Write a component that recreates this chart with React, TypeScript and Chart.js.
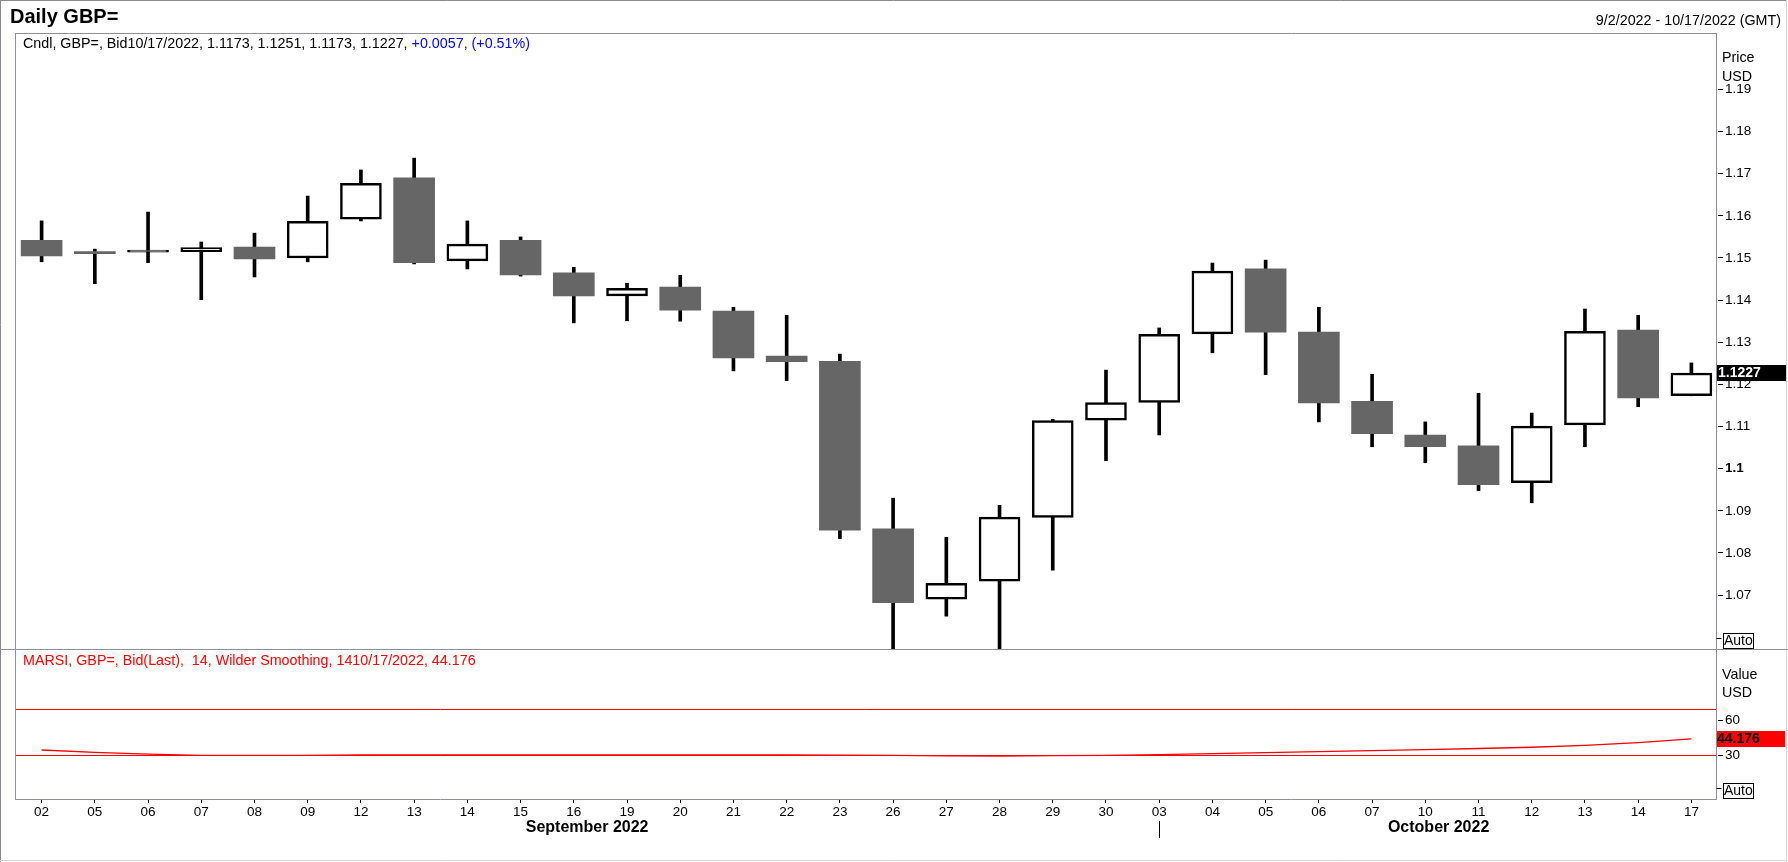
import React, { useEffect, useRef } from 'react';
import { Chart, registerables } from 'chart.js';

Chart.register(...registerables);

// ---------- data ----------
const DAYS = ['02', '05', '06', '07', '08', '09', '12', '13', '14', '15', '16', '19', '20', '21', '22', '23', '26', '27', '28', '29', '30',
  '03', '04', '05', '06', '07', '10', '11', '12', '13', '14', '17'];
const MONTH_NAMES = ['September 2022', 'October 2022'];
const MONTH_FIRST_INDEX = [0, 21];

const OPEN = [1.1542, 1.1515, 1.1514, 1.1515, 1.1526, 1.1500, 1.1592, 1.1690, 1.1493, 1.1542, 1.1465, 1.1410, 1.1431, 1.1374, 1.1267, 1.1255,
  1.0857, 1.0690, 1.0733, 1.0884, 1.1115, 1.1157, 1.1320, 1.1474, 1.1324, 1.1160, 1.1080, 1.1054, 1.0967, 1.1104, 1.1329, 1.1173];
const HIGH = [1.1588, 1.1521, 1.1609, 1.1538, 1.1559, 1.1647, 1.1709, 1.1737, 1.1588, 1.1550, 1.1478, 1.1440, 1.1459, 1.1383, 1.1364, 1.1272,
  1.0930, 1.0837, 1.0913, 1.1117, 1.1234, 1.1334, 1.1488, 1.1495, 1.1383, 1.1224, 1.1111, 1.1179, 1.1132, 1.1379, 1.1364, 1.1251];
const LOW = [1.1491, 1.1439, 1.1489, 1.1401, 1.1455, 1.1491, 1.1588, 1.1486, 1.1474, 1.1457, 1.1346, 1.1351, 1.1350, 1.1232, 1.1209, 1.0834,
  1.0350, 1.0650, 1.0540, 1.0759, 1.1019, 1.1080, 1.1275, 1.1223, 1.1111, 1.1052, 1.1014, 1.0948, 1.0919, 1.1052, 1.1147, 1.1173];
const CLOSE = [1.1505, 1.1510, 1.1519, 1.1525, 1.1498, 1.1587, 1.1677, 1.1489, 1.1533, 1.1460, 1.1410, 1.1428, 1.1376, 1.1263, 1.1254, 1.0854,
  1.0682, 1.0728, 1.0885, 1.1114, 1.1157, 1.1319, 1.1469, 1.1324, 1.1156, 1.1083, 1.1052, 1.0962, 1.1101, 1.1326, 1.1168, 1.1227];
const RSI = [34.6, 32.6, 31.0, 30.0, 29.9, 29.9, 30.4, 30.4, 30.4, 30.4, 30.4, 30.4, 30.4, 30.4, 30.4, 30.2,
  30.0, 29.5, 29.4, 29.8, 30.0, 30.6, 31.4, 32.3, 33.2, 34.1, 35.0, 35.9, 37.0, 38.6, 41.0, 44.176];
const RSI_LEVELS = [70, 30];

const PRICE_TICKS = [1.07, 1.08, 1.09, 1.1, 1.11, 1.12, 1.13, 1.14, 1.15, 1.16, 1.17, 1.18, 1.19];
const PRICE_BOLD_TICKS = [1.1];
const RSI_TICKS = [30, 60];
const PRICE_MIN = 1.0572;
const PRICE_MAX = 1.2034;
const RSI_MIN = -7.9;
const RSI_MAX = 122.2;

const TITLE = 'Daily GBP=';
const DATE_RANGE = '9/2/2022 - 10/17/2022 (GMT)';
const CANDLE_HEADER = 'Cndl, GBP=, Bid10/17/2022, 1.1173, 1.1251, 1.1173, 1.1227, ';
const CANDLE_CHANGE = '+0.0057, (+0.51%)';
const RSI_HEADER = 'MARSI, GBP=, Bid(Last),  14, Wilder Smoothing, 1410/17/2022, 44.176';
const PRICE_AXIS_TITLE = ['Price', 'USD'];
const RSI_AXIS_TITLE = ['Value', 'USD'];
const AUTO_LABEL = 'Auto';

// ---------- layout ----------
const W = 1788;
const H = 862;
const TOP_H = 649;
const BOT_H = H - TOP_H;
const LEFT = 15;
const AXIS_W = 70;
const FRAME_R = 1716.5;
const FONT = '"Liberation Sans", Arial, Helvetica, sans-serif';
const TXT = `14.3px ${FONT}`;
const FRAME_COLOR = '#8e8e9e';
const GRAY = '#666666';

const bull = (i: number) => CLOSE[i] >= OPEN[i];
const near = (a: number, b: number) => Math.abs(a - b) < 1e-9;

function drawOuterBorder(ctx: CanvasRenderingContext2D, h: number, top: boolean, bottom: boolean) {
  ctx.save();
  ctx.lineWidth = 1;
  ctx.strokeStyle = '#8a8a8a';
  ctx.beginPath();
  ctx.moveTo(0.5, 0); ctx.lineTo(0.5, h);
  if (top) { ctx.moveTo(0, 0.5); ctx.lineTo(1787, 0.5); }
  ctx.stroke();
  ctx.strokeStyle = '#d4d4d4';
  ctx.beginPath();
  ctx.moveTo(1786.5, 0); ctx.lineTo(1786.5, h);
  if (bottom) { ctx.moveTo(0, h - 1.5); ctx.lineTo(1787, h - 1.5); }
  ctx.stroke();
  ctx.restore();
}

function drawAuto(ctx: CanvasRenderingContext2D, yTop: number) {
  ctx.save();
  ctx.strokeStyle = '#000';
  ctx.lineWidth = 1;
  ctx.beginPath();
  ctx.moveTo(FRAME_R, yTop + 5.5); ctx.lineTo(FRAME_R + 5, yTop + 5.5);
  ctx.stroke();
  ctx.strokeRect(1723.5, yTop + 0.5, 30, 15);
  ctx.fillStyle = '#000';
  ctx.font = `14px ${FONT}`;
  ctx.textBaseline = 'middle';
  ctx.textAlign = 'left';
  ctx.fillText(AUTO_LABEL, 1724, yTop + 8.5);
  ctx.restore();
}

const topDecor = {
  id: 'topDecor',
  afterDraw(chart: any) {
    const ctx: CanvasRenderingContext2D = chart.ctx;
    const y = chart.scales.y;
    ctx.save();
    drawOuterBorder(ctx, TOP_H, true, false);
    ctx.strokeStyle = FRAME_COLOR;
    ctx.lineWidth = 1;
    ctx.beginPath();
    ctx.moveTo(LEFT + 0.5, 33); ctx.lineTo(LEFT + 0.5, TOP_H);
    ctx.moveTo(LEFT, 33.5); ctx.lineTo(FRAME_R + 0.5, 33.5);
    ctx.moveTo(FRAME_R, 33); ctx.lineTo(FRAME_R, TOP_H);
    ctx.stroke();
    ctx.fillStyle = '#000';
    ctx.textBaseline = 'middle';
    ctx.textAlign = 'left';
    ctx.font = `bold 20px ${FONT}`;
    ctx.fillText(TITLE, 10, 17);
    ctx.font = TXT;
    ctx.textAlign = 'right';
    ctx.fillText(DATE_RANGE, 1781, 21);
    ctx.textAlign = 'left';
    ctx.fillText(CANDLE_HEADER, 23, 44);
    const w = ctx.measureText(CANDLE_HEADER).width;
    ctx.fillStyle = '#0000ff';
    ctx.fillText(CANDLE_CHANGE, 23 + w, 44);
    ctx.fillStyle = '#000';
    ctx.fillText(PRICE_AXIS_TITLE[0], 1722, 58);
    ctx.fillText(PRICE_AXIS_TITLE[1], 1722, 77);
    drawAuto(ctx, 633);
    const last = CLOSE[CLOSE.length - 1];
    const py = Math.round(y.getPixelForValue(last));
    ctx.fillStyle = '#000';
    ctx.fillRect(1717, py - 8, 69, 16);
    ctx.fillStyle = '#fff';
    ctx.font = `bold 14px ${FONT}`;
    ctx.textAlign = 'left';
    ctx.fillText(last.toFixed(4), 1718, py + 0.5);
    ctx.restore();
  },
};

const botDecor = {
  id: 'botDecor',
  beforeDatasetsDraw(chart: any) {
    const ctx: CanvasRenderingContext2D = chart.ctx;
    const { left } = chart.chartArea;
    const y = chart.scales.y;
    ctx.save();
    ctx.strokeStyle = '#ff0000';
    ctx.lineWidth = 1;
    ctx.beginPath();
    RSI_LEVELS.forEach((lv) => {
      const py = Math.round(y.getPixelForValue(lv)) + 0.5;
      ctx.moveTo(left, py); ctx.lineTo(FRAME_R, py);
    });
    ctx.stroke();
    ctx.restore();
  },
  afterDraw(chart: any) {
    const ctx: CanvasRenderingContext2D = chart.ctx;
    const { left, right, bottom } = chart.chartArea;
    const x = chart.scales.x;
    const y = chart.scales.y;
    ctx.save();
    drawOuterBorder(ctx, BOT_H, false, true);
    ctx.strokeStyle = FRAME_COLOR;
    ctx.lineWidth = 1;
    ctx.beginPath();
    ctx.moveTo(0, 0.5); ctx.lineTo(W, 0.5);
    ctx.moveTo(LEFT + 0.5, 0); ctx.lineTo(LEFT + 0.5, bottom + 1);
    ctx.moveTo(FRAME_R, 0); ctx.lineTo(FRAME_R, bottom + 1);
    ctx.moveTo(LEFT, bottom + 0.5); ctx.lineTo(FRAME_R + 0.5, bottom + 0.5);
    ctx.stroke();
    ctx.fillStyle = '#ff0000';
    ctx.font = TXT;
    ctx.textBaseline = 'middle';
    ctx.textAlign = 'left';
    ctx.fillText(RSI_HEADER, 23, 12);
    ctx.fillStyle = '#000';
    ctx.fillText(RSI_AXIS_TITLE[0], 1722, 26);
    ctx.fillText(RSI_AXIS_TITLE[1], 1722, 44);
    drawAuto(ctx, 134);
    const lastV = RSI[RSI.length - 1];
    const vy = Math.round(y.getPixelForValue(lastV));
    ctx.fillStyle = '#ff0000';
    ctx.fillRect(1717, vy - 8, 68, 16);
    ctx.fillStyle = '#000';
    ctx.font = `bold 14px ${FONT}`;
    ctx.fillText(lastV.toFixed(3), 1717, vy + 0.5);
    const bounds = MONTH_FIRST_INDEX.map((idx, k) => (k === 0 ? left : x.getPixelForValue(idx)));
    bounds.push(right);
    ctx.font = `bold 16px ${FONT}`;
    ctx.textAlign = 'center';
    MONTH_NAMES.forEach((name, k) => {
      ctx.fillText(name, (bounds[k] + bounds[k + 1]) / 2, 179);
    });
    ctx.strokeStyle = '#000';
    ctx.beginPath();
    MONTH_FIRST_INDEX.slice(1).forEach((idx) => {
      const px = Math.round(x.getPixelForValue(idx)) + 0.5;
      ctx.moveTo(px, 172); ctx.lineTo(px, 189);
    });
    ctx.stroke();
    ctx.restore();
  },
};

export default function App() {
  const topRef = useRef<HTMLCanvasElement>(null);
  const botRef = useRef<HTMLCanvasElement>(null);

  useEffect(() => {
    document.body.style.margin = '0';
    document.body.style.overflow = 'hidden';
    const noPad = (s: any) => { s.paddingTop = 0; s.paddingBottom = 0; s.paddingLeft = 0; s.paddingRight = 0; };

    const topChart = new Chart(topRef.current as HTMLCanvasElement, {
      type: 'bar',
      data: {
        labels: DAYS,
        datasets: [
          {
            label: 'body',
            data: OPEN.map((o, i) => [o, CLOSE[i]]) as any,
            backgroundColor: (c: any) => (bull(c.dataIndex ?? 0) ? '#ffffff' : GRAY),
            borderColor: '#000000',
            borderWidth: (c: any) => (bull(c.dataIndex ?? 0) ? 2.5 : 0),
            borderSkipped: false,
            barThickness: 41,
            minBarLength: 2,
            grouped: false,
            order: 0,
          } as any,
          {
            label: 'wick',
            data: LOW.map((l, i) => [l, HIGH[i]]) as any,
            backgroundColor: '#000000',
            borderWidth: 0,
            barThickness: 3,
            grouped: false,
            order: 1,
          } as any,
        ],
      },
      options: {
        responsive: false,
        maintainAspectRatio: false,
        animation: false,
        devicePixelRatio: 1,
        layout: { padding: { left: LEFT, top: 33, right: 0, bottom: 0 } },
        plugins: { legend: { display: false }, tooltip: { enabled: false } },
        events: [],
        scales: {
          x: { type: 'category', display: false, offset: true },
          y: {
            position: 'right',
            min: PRICE_MIN,
            max: PRICE_MAX,
            afterBuildTicks: (s: any) => { s.ticks = PRICE_TICKS.map((v) => ({ value: v })); },
            afterFit: (s: any) => { s.width = AXIS_W; noPad(s); },
            grid: { drawOnChartArea: false, drawTicks: true, tickLength: 5, color: '#000' },
            border: { display: false },
            ticks: {
              color: '#000',
              padding: 2,
              font: (c: any) => ({ family: FONT, size: 13.5, weight: c.tick && PRICE_BOLD_TICKS.some((b) => near(b, c.tick.value)) ? 'bold' : 'normal' }),
              callback: (v: any) => String(Math.round(Number(v) * 100) / 100),
            },
          } as any,
        },
      } as any,
      plugins: [topDecor],
    });

    const botChart = new Chart(botRef.current as HTMLCanvasElement, {
      type: 'line',
      data: {
        labels: DAYS,
        datasets: [
          {
            label: 'RSI',
            data: RSI,
            borderColor: '#ff0000',
            borderWidth: 1.3,
            pointRadius: 0,
            tension: 0,
            fill: false,
          },
        ],
      },
      options: {
        responsive: false,
        maintainAspectRatio: false,
        animation: false,
        devicePixelRatio: 1,
        layout: { padding: { left: LEFT, top: 0, right: 0, bottom: 0 } },
        plugins: { legend: { display: false }, tooltip: { enabled: false } },
        events: [],
        scales: {
          x: {
            type: 'category',
            offset: true,
            grid: { offset: false, drawOnChartArea: false, drawTicks: true, tickLength: 4, color: '#000' },
            border: { display: false },
            ticks: { color: '#000', font: { family: FONT, size: 13.5 }, padding: 1, autoSkip: false, maxRotation: 0, minRotation: 0 },
            afterFit: (s: any) => { s.height = 63; noPad(s); },
          },
          y: {
            position: 'right',
            min: RSI_MIN,
            max: RSI_MAX,
            afterBuildTicks: (s: any) => { s.ticks = RSI_TICKS.map((v) => ({ value: v })); },
            afterFit: (s: any) => { s.width = AXIS_W; noPad(s); },
            grid: { drawOnChartArea: false, drawTicks: true, tickLength: 5, color: '#000' },
            border: { display: false },
            ticks: { color: '#000', padding: 2, font: { family: FONT, size: 13.5 } },
          },
        },
      } as any,
      plugins: [botDecor],
    });

    return () => {
      topChart.destroy();
      botChart.destroy();
    };
  }, []);

  return (
    <div style={{ position: 'absolute', left: 0, top: 0, width: W, height: H, background: '#fff', overflow: 'hidden' }}>
      <canvas ref={topRef} width={W} height={TOP_H} style={{ display: 'block', width: W, height: TOP_H }} />
      <canvas ref={botRef} width={W} height={BOT_H} style={{ display: 'block', width: W, height: BOT_H }} />
    </div>
  );
}
